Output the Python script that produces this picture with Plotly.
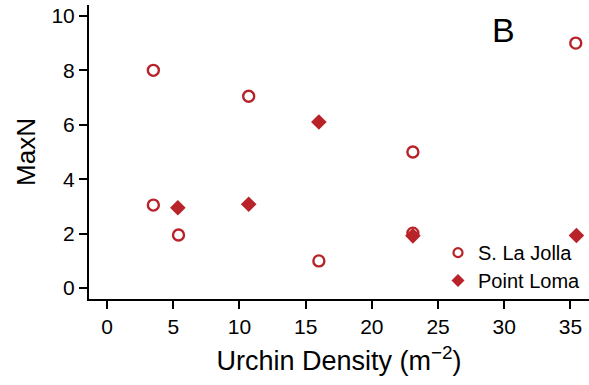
import plotly.graph_objects as go

# S. La Jolla (open circles)
lj_x = [3.5, 3.5, 5.4, 10.7, 16.0, 23.1, 23.1, 35.4]
lj_y = [8.0, 3.05, 1.95, 7.05, 1.0, 5.0, 2.02, 9.0]
# Point Loma (filled diamonds)
pl_x = [5.35, 10.7, 16.0, 23.1, 35.45]
pl_y = [2.95, 3.08, 6.1, 1.92, 1.93]

x_ticks = [0, 5, 10, 15, 20, 25, 30, 35]
y_ticks = [0, 2, 4, 6, 8, 10]

RED = "#B8232A"
FONT = "Liberation Sans, Arial, sans-serif"

fig = go.Figure()
fig.add_trace(go.Scatter(
    x=lj_x, y=lj_y, mode="markers", name="S. La Jolla", legendgroup="lj", showlegend=False,
    marker=dict(symbol="circle-open", size=11, color=RED, line=dict(width=2.4, color=RED)),
))
fig.add_trace(go.Scatter(
    x=pl_x, y=pl_y, mode="markers", name="Point Loma", legendgroup="pl", showlegend=False,
    marker=dict(symbol="diamond", size=12, color=RED, line=dict(width=0)),
))
# legend entries (smaller symbols, as in the reference legend)
fig.add_trace(go.Scatter(
    x=[None], y=[None], mode="markers", name="S. La Jolla", legendgroup="lj", legend="legend",
    marker=dict(symbol="circle-open", size=9, color=RED, line=dict(width=2.2, color=RED)),
))
fig.add_trace(go.Scatter(
    x=[None], y=[None], mode="markers", name="Point Loma", legendgroup="pl", legend="legend2",
    marker=dict(symbol="diamond", size=10, color=RED, line=dict(width=0)),
))

axis_common = dict(
    showline=True, linecolor="black", linewidth=2,
    ticks="outside", ticklen=8, tickwidth=2, tickcolor="black",
    showgrid=False, zeroline=False,
    tickfont=dict(family=FONT, size=21, color="black"),
)

legend_common = dict(xanchor="left", yanchor="top",
                     font=dict(family=FONT, size=20, color="black"),
                     bgcolor="rgba(0,0,0,0)", itemsizing="trace")

fig.update_layout(
    width=589, height=385,
    margin=dict(l=89, r=0, t=5, b=86),
    paper_bgcolor="white", plot_bgcolor="white",
    font=dict(family=FONT, color="black"),
    xaxis=dict(range=[-1.36, 36.4], tickvals=x_ticks,
               title=dict(text="Urchin Density (m<sup>\u22122</sup>)", font=dict(size=27), standoff=14),
               **axis_common),
    yaxis=dict(range=[-0.4, 10.4], tickvals=y_ticks,
               title=dict(text="MaxN", font=dict(size=26), standoff=8),
               **axis_common),
    legend=dict(x=0.698, y=0.224, **legend_common),
    legend2=dict(x=0.698, y=0.129, **legend_common),
    showlegend=True,
    annotations=[dict(text="B", xref="paper", yref="paper", x=0.828, y=0.915,
                      xanchor="center", yanchor="middle", showarrow=False,
                      font=dict(family=FONT, size=34, color="black"))],
)

fig.write_html("out.html")
